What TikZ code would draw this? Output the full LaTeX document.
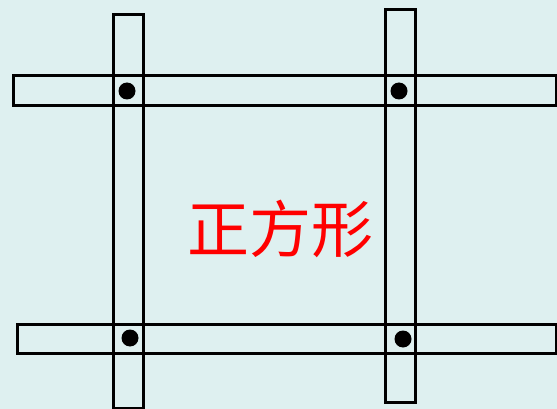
\documentclass[tikz,border=0pt]{standalone}
\usepackage{fontspec}
\newfontfamily\cjk{Noto Sans CJK SC}
\definecolor{bg}{RGB}{222,240,240}
\begin{document}
\begin{tikzpicture}[x=1pt,y=-1pt,
  strip/.style={draw=black,line width=3pt},
  pin/.style={fill=black}]
\fill[bg] (0,0) rectangle (557,409);
\useasboundingbox (0,0) rectangle (557,409);
% horizontal strips
\draw[strip] (13,76) rectangle (556,106);
\draw[strip] (17,324) rectangle (556,353);
% vertical strips
\draw[strip] (113,15) rectangle (143,408);
\draw[strip] (385,10) rectangle (415,402);
% pins
\fill[pin] (127,91) circle (8.5);
\fill[pin] (399,91) circle (8.5);
\fill[pin] (130,338) circle (8.5);
\fill[pin] (403,339) circle (8.5);
\node[text=red,font=\cjk\fontsize{62}{62}\selectfont,inner sep=0pt] (t) at (280,229) {正方形};
\end{tikzpicture}
\end{document}
